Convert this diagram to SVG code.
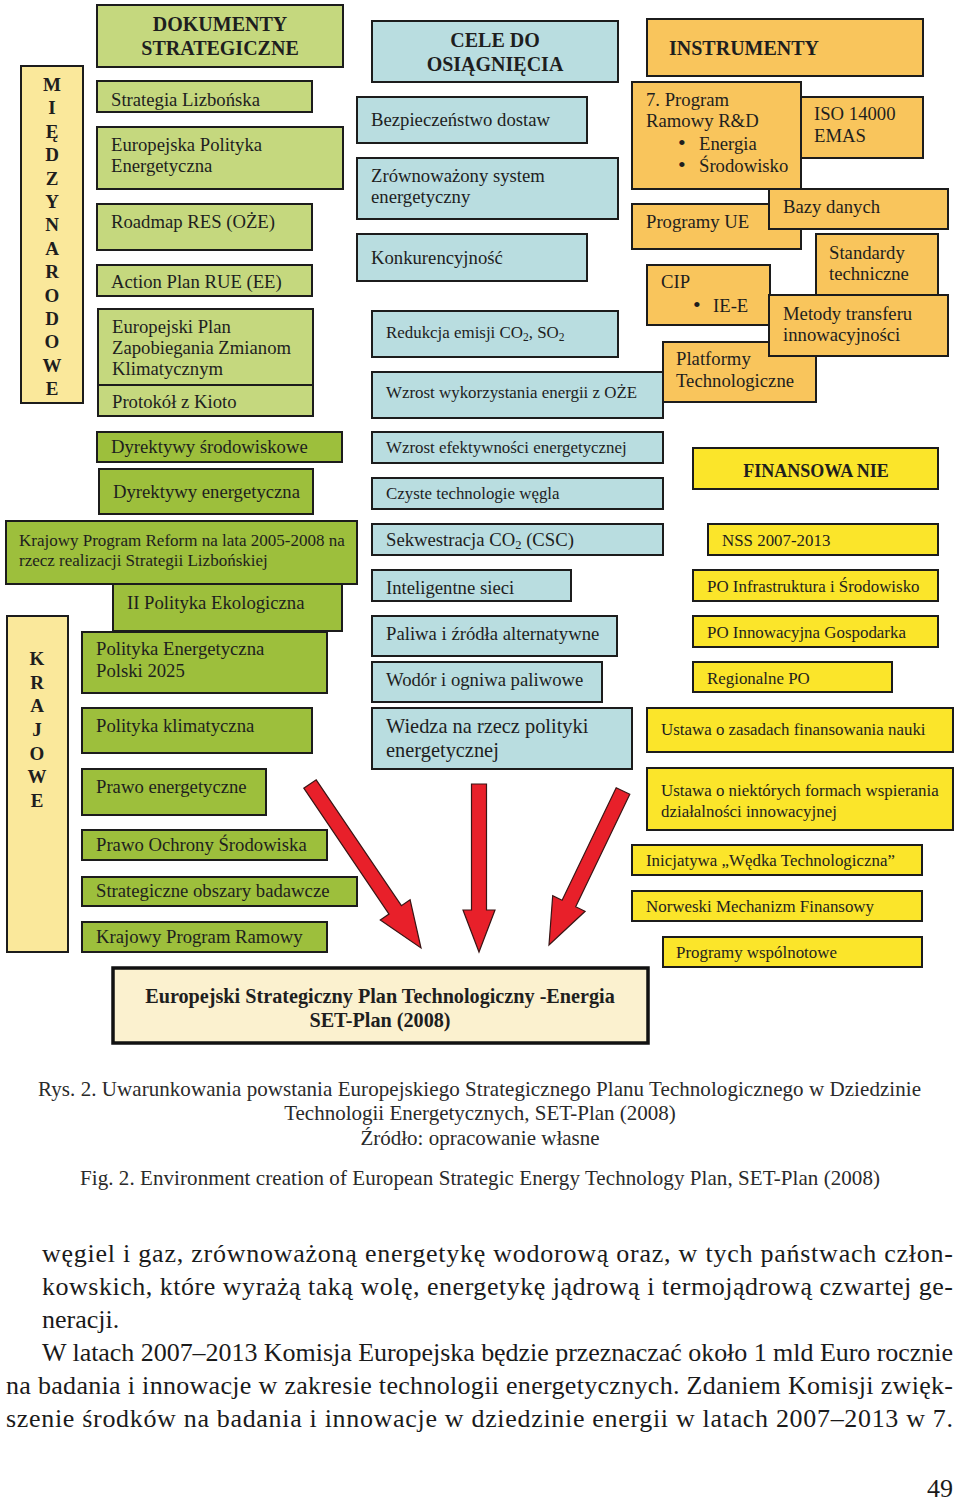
<svg xmlns="http://www.w3.org/2000/svg" width="960" height="1502" viewBox="0 0 960 1502">
<style>
rect{stroke:#1c1c1c;stroke-width:2}
.g1{fill:#c5d87e}.g2{fill:#9dbf3c}.b{fill:#b9dde0}.o{fill:#f9c55c}.y{fill:#fbe52a}.lab{fill:#fae89b}.set{fill:#fbf1cf;stroke:#111;stroke-width:3.5}
text{font-family:"Liberation Serif","Times New Roman",serif;fill:#1e1e1e}
.t{font-size:18.7px}.s{font-size:16.9px}.k{font-size:17px}.w{font-size:20.4px}
.h{font-size:20px;font-weight:bold}.hb{font-size:18px;font-weight:bold}
.v{font-size:19px;font-weight:bold;text-anchor:middle}
.c{text-anchor:middle}
.cap{font-size:21px;fill:#2a2a2a}
.body{font-size:26px;fill:#1a1a1a}
.arr{fill:#e8202a;stroke:#3a1515;stroke-width:1.2;stroke-linejoin:miter}
</style>

<!-- Labels -->
<g id="miedzynarodowe">
<rect class="lab" x="21" y="66" width="62" height="337"/>
<text class="v" x="52" y="91">M</text><text class="v" x="52" y="114">I</text><text class="v" x="52" y="138">Ę</text><text class="v" x="52" y="161">D</text><text class="v" x="52" y="185">Z</text><text class="v" x="52" y="208">Y</text><text class="v" x="52" y="231">N</text><text class="v" x="52" y="255">A</text><text class="v" x="52" y="278">R</text><text class="v" x="52" y="302">O</text><text class="v" x="52" y="325">D</text><text class="v" x="52" y="348">O</text><text class="v" x="52" y="372">W</text><text class="v" x="52" y="395">E</text>
</g>
<g id="krajowe">
<rect class="lab" x="7" y="616" width="61" height="336"/>
<text class="v" x="37" y="665">K</text><text class="v" x="37" y="689">R</text><text class="v" x="37" y="712">A</text><text class="v" x="37" y="736">J</text><text class="v" x="37" y="760">O</text><text class="v" x="37" y="783">W</text><text class="v" x="37" y="807">E</text>
</g>

<!-- Left column top -->
<g id="dokumenty"><rect class="g1" x="97" y="5" width="246" height="62"/><text class="h c" x="220" y="31">DOKUMENTY</text><text class="h c" x="220" y="55">STRATEGICZNE</text></g>
<g id="strategia"><rect class="g1" x="97" y="81" width="215" height="31"/><text class="t" x="111" y="106">Strategia Lizbońska</text></g>
<g id="epe"><rect class="g1" x="97" y="127" width="246" height="62"/><text class="t" x="111" y="151">Europejska Polityka</text><text class="t" x="111" y="172">Energetyczna</text></g>
<g id="roadmap"><rect class="g1" x="97" y="204" width="215" height="46"/><text class="t" x="111" y="228">Roadmap RES (OŻE)</text></g>
<g id="action"><rect class="g1" x="97" y="265" width="215" height="31"/><text class="t" x="111" y="288">Action Plan RUE (EE)</text></g>
<g id="epzzk"><rect class="g1" x="98" y="309" width="215" height="76"/><text class="t" x="112" y="333">Europejski Plan</text><text class="t" x="112" y="354">Zapobiegania Zmianom</text><text class="t" x="112" y="375">Klimatycznym</text></g>
<g id="kioto"><rect class="g1" x="98" y="385" width="215" height="31"/><text class="t" x="112" y="408">Protokół z Kioto</text></g>

<!-- Middle column top -->
<g id="cele"><rect class="b" x="372" y="21" width="246" height="61"/><text class="h c" x="495" y="47">CELE DO</text><text class="h c" x="495" y="71">OSIĄGNIĘCIA</text></g>
<g id="bezp"><rect class="b" x="357" y="97" width="230" height="46"/><text class="t" x="371" y="126">Bezpieczeństwo dostaw</text></g>
<g id="zrown"><rect class="b" x="357" y="158" width="261" height="61"/><text class="t" x="371" y="182">Zrównoważony system</text><text class="t" x="371" y="203">energetyczny</text></g>
<g id="konk"><rect class="b" x="357" y="234" width="230" height="47"/><text class="t" x="371" y="264">Konkurencyjność</text></g>
<g id="redukcja"><rect class="b" x="372" y="311" width="246" height="46"/><text class="s" x="386" y="338">Redukcja emisji CO<tspan font-size="11.5" dy="3">2</tspan><tspan dy="-3">, SO</tspan><tspan font-size="11.5" dy="3">2</tspan></text></g>
<g id="wzrost-oze"><rect class="b" x="372" y="372" width="291" height="46"/><text class="s" x="386" y="398">Wzrost wykorzystania energii z OŻE</text></g>

<!-- Right column top -->
<g id="instrumenty"><rect class="o" x="647" y="19" width="276" height="57"/><text class="h" x="669" y="55">INSTRUMENTY</text></g>
<g id="iso"><rect class="o" x="800" y="97" width="123" height="61"/><text class="t" x="814" y="120">ISO 14000</text><text class="t" x="814" y="142">EMAS</text></g>
<g id="program7"><rect class="o" x="632" y="82" width="169" height="107"/><text class="t" x="646" y="106">7. Program</text><text class="t" x="646" y="127">Ramowy R&amp;D</text><text class="t" x="678" y="150" style="font-size:22px">•</text><text class="t" x="699" y="150">Energia</text><text class="t" x="678" y="172" style="font-size:22px">•</text><text class="t" x="699" y="172">Środowisko</text></g>
<g id="programy-ue"><rect class="o" x="632" y="204" width="169" height="45"/><text class="t" x="646" y="228">Programy UE</text></g>
<g id="bazy"><rect class="o" x="769" y="189" width="179" height="40"/><text class="t" x="783" y="213">Bazy danych</text></g>
<g id="standardy"><rect class="o" x="816" y="234" width="122" height="61"/><text class="t" x="829" y="259">Standardy</text><text class="t" x="829" y="280">techniczne</text></g>
<g id="cip"><rect class="o" x="647" y="265" width="123" height="60"/><text class="t" x="661" y="288">CIP</text><text class="t" x="693" y="312" style="font-size:22px">•</text><text class="t" x="713" y="312">IE-E</text></g>
<g id="platformy"><rect class="o" x="663" y="342" width="153" height="60"/><text class="t" x="676" y="365">Platformy</text><text class="t" x="676" y="387">Technologiczne</text></g>
<g id="metody"><rect class="o" x="769" y="295" width="179" height="61"/><text class="t" x="783" y="320">Metody transferu</text><text class="t" x="783" y="341">innowacyjności</text></g>

<!-- Left column bottom -->
<g id="dyr-srod"><rect class="g2" x="97" y="432" width="245" height="30"/><text class="t" x="111" y="453">Dyrektywy środowiskowe</text></g>
<g id="dyr-energ"><rect class="g2" x="99" y="469" width="214" height="45"/><text class="t" x="113" y="498">Dyrektywy energetyczna</text></g>
<g id="kpr"><rect class="g2" x="6" y="521" width="351" height="63"/><text class="k" x="19" y="546">Krajowy Program Reform na lata 2005-2008 na</text><text class="k" x="19" y="566">rzecz realizacji Strategii Lizbońskiej</text></g>
<g id="ii-pol"><rect class="g2" x="113" y="584" width="229" height="47"/><text class="t" x="127" y="609">II Polityka Ekologiczna</text></g>
<g id="pep"><rect class="g2" x="82" y="632" width="245" height="61"/><text class="t" x="96" y="655">Polityka Energetyczna</text><text class="t" x="96" y="677">Polski 2025</text></g>
<g id="klim"><rect class="g2" x="82" y="708" width="230" height="45"/><text class="t" x="96" y="732">Polityka klimatyczna</text></g>
<g id="prawo-e"><rect class="g2" x="82" y="769" width="184" height="46"/><text class="t" x="96" y="793">Prawo energetyczne</text></g>
<g id="pos"><rect class="g2" x="82" y="830" width="245" height="30"/><text class="t" x="96" y="851">Prawo Ochrony Środowiska</text></g>
<g id="sob"><rect class="g2" x="82" y="877" width="275" height="29"/><text class="t" x="96" y="897">Strategiczne obszary badawcze</text></g>
<g id="kprm"><rect class="g2" x="82" y="922" width="245" height="30"/><text class="t" x="96" y="943">Krajowy Program Ramowy</text></g>

<!-- Middle column bottom -->
<g id="efekt"><rect class="b" x="372" y="432" width="291" height="31"/><text class="s" x="386" y="453">Wzrost efektywności energetycznej</text></g>
<g id="czyste"><rect class="b" x="372" y="478" width="291" height="31"/><text class="s" x="386" y="499">Czyste technologie węgla</text></g>
<g id="sekw"><rect class="b" x="372" y="524" width="291" height="31"/><text class="t" x="386" y="546">Sekwestracja CO<tspan font-size="12.5" dy="3">2</tspan><tspan dy="-3"> (CSC)</tspan></text></g>
<g id="intel"><rect class="b" x="372" y="570" width="199" height="31"/><text class="t" x="386" y="594">Inteligentne sieci</text></g>
<g id="paliwa"><rect class="b" x="372" y="616" width="245" height="40"/><text class="t" x="386" y="640">Paliwa i źródła alternatywne</text></g>
<g id="wodor"><rect class="b" x="372" y="662" width="230" height="40"/><text class="t" x="386" y="686">Wodór i ogniwa paliwowe</text></g>
<g id="wiedza"><rect class="b" x="372" y="708" width="260" height="61"/><text class="w" x="386" y="733">Wiedza na rzecz polityki</text><text class="w" x="386" y="757">energetycznej</text></g>

<!-- Right column bottom -->
<g id="finansowanie"><rect class="y" x="693" y="448" width="245" height="41"/><text class="hb c" x="816" y="477">FINANSOWA NIE</text></g>
<g id="nss"><rect class="y" x="708" y="524" width="230" height="31"/><text class="s" x="722" y="546">NSS 2007-2013</text></g>
<g id="po-is"><rect class="y" x="693" y="570" width="245" height="31"/><text class="s" x="707" y="592">PO Infrastruktura i Środowisko</text></g>
<g id="po-ig"><rect class="y" x="693" y="616" width="245" height="31"/><text class="s" x="707" y="638">PO Innowacyjna Gospodarka</text></g>
<g id="rpo"><rect class="y" x="693" y="662" width="199" height="30"/><text class="s" x="707" y="684">Regionalne PO</text></g>
<g id="ustawa1"><rect class="y" x="647" y="708" width="306" height="44"/><text class="s" x="661" y="735">Ustawa o zasadach finansowania nauki</text></g>
<g id="ustawa2"><rect class="y" x="647" y="768" width="306" height="62"/><text class="s" x="661" y="796">Ustawa o niektórych formach wspierania</text><text class="s" x="661" y="817">działalności innowacyjnej</text></g>
<g id="wedka"><rect class="y" x="632" y="845" width="290" height="30"/><text class="s" x="646" y="866">Inicjatywa „Wędka Technologiczna”</text></g>
<g id="norweski"><rect class="y" x="632" y="891" width="290" height="30"/><text class="s" x="646" y="912">Norweski Mechanizm Finansowy</text></g>
<g id="wspolnotowe"><rect class="y" x="663" y="937" width="259" height="30"/><text class="s" x="676" y="958">Programy wspólnotowe</text></g>

<!-- Connectors -->
<g id="connectors">
<polygon class="arr" points="316.2,779.8 401.4,905.7 410.1,899.8 421,948 380.3,920 389,914.1 303.8,788.2"/>
<polygon class="arr" points="471.5,784 486.5,784 486.5,910 495,910 479,952 463,910 471.5,910"/>
<polygon class="arr" points="629.8,794.2 575.7,906.7 585.1,911.3 549,945 552.7,895.7 562.1,900.2 616.2,787.8"/>
</g>

<g id="set-plan"><rect class="set" x="113" y="968" width="535" height="75"/><text class="hb c" x="380" y="1003" style="font-size:20.2px">Europejski Strategiczny Plan Technologiczny -Energia</text><text class="hb c" x="380" y="1027" style="font-size:20.2px">SET-Plan (2008)</text></g>

<!-- Caption -->
<text class="cap" x="38" y="1096" textLength="883" lengthAdjust="spacing">Rys. 2. Uwarunkowania powstania Europejskiego Strategicznego Planu Technologicznego w Dziedzinie</text>
<text class="cap c" x="480" y="1120">Technologii Energetycznych, SET-Plan (2008)</text>
<text class="cap c" x="480" y="1145">Źródło: opracowanie własne</text>
<text class="cap" x="80" y="1185" textLength="800" lengthAdjust="spacing">Fig. 2. Environment creation of European Strategic Energy Technology Plan, SET-Plan (2008)</text>

<!-- Body text -->
<text class="body" x="42" y="1262" textLength="911" lengthAdjust="spacing">węgiel i gaz, zrównoważoną energetykę wodorową oraz, w tych państwach człon-</text>
<text class="body" x="42" y="1295" textLength="911" lengthAdjust="spacing">kowskich, które wyrażą taką wolę, energetykę jądrową i termojądrową czwartej ge-</text>
<text class="body" x="42" y="1328">neracji.</text>
<text class="body" x="42" y="1361" textLength="911" lengthAdjust="spacing">W latach 2007–2013 Komisja Europejska będzie przeznaczać około 1 mld Euro rocznie</text>
<text class="body" x="6" y="1394" textLength="947" lengthAdjust="spacing">na badania i innowacje w zakresie technologii energetycznych. Zdaniem Komisji zwięk-</text>
<text class="body" x="6" y="1427" textLength="947" lengthAdjust="spacing">szenie środków na badania i innowacje w dziedzinie energii w latach 2007–2013 w 7.</text>
<text class="body" x="953" y="1497" style="text-anchor:end">49</text>
</svg>
